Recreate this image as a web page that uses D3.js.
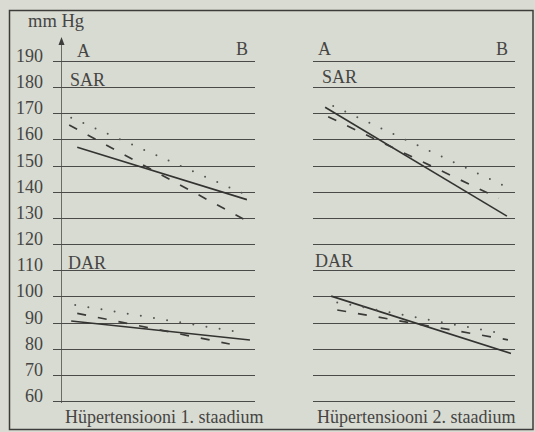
<!DOCTYPE html>
<html>
<head>
<meta charset="utf-8">
<script src="https://cdn.jsdelivr.net/npm/d3@7"></script>
<style>
  html, body { margin: 0; padding: 0; background: #dadcd3; }
  svg { display: block; }
</style>
</head>
<body>
<svg id="chart" width="535" height="432"></svg>
<script>
// Blood pressure (mm Hg) trend between observation points A and B.
// Each series: [position within the A–B period in %, pressure in mm Hg]
const tickValues = [190, 180, 170, 160, 150, 140, 130, 120, 110, 100, 90, 80, 70, 60];
const stageTitles = ["Hüpertensiooni 1. staadium", "Hüpertensiooni 2. staadium"];
const groupLabels = ["SAR", "DAR"];
const groupLevels = [180, 110];

// Stage 1
const sarStage1Solid  = [[12, 157], [96, 137]];
const sarStage1Dashed = [[8, 165.5], [98, 128]];
const sarStage1Dotted = [[9, 168.3], [94, 139.4]];
const darStage1Solid  = [[9, 90.6], [97.5, 83.3]];
const darStage1Dashed = [[12, 93.5], [87.5, 81.8]];
const darStage1Dotted = [[11, 96.7], [91, 86.5]];

// Stage 2
const sarStage2Solid  = [[6, 172.3], [96, 130.7]];
const sarStage2Dashed = [[7.5, 168.7], [92, 137.5]];
const sarStage2Dotted = [[10, 172.8], [96, 141.8]];
const darStage2Solid  = [[9, 100.1], [98, 78.2]];
const darStage2Dashed = [[12, 94.8], [96.5, 83.4]];
const darStage2Dotted = [[12, 97.7], [95.5, 85.5]];

const stageSeries = [
  [sarStage1Solid, sarStage1Dashed, sarStage1Dotted, darStage1Solid, darStage1Dashed, darStage1Dotted],
  [sarStage2Solid, sarStage2Dashed, sarStage2Dotted, darStage2Solid, darStage2Dashed, darStage2Dotted]
];
const seriesStyle = ["solid", "dashed", "dotted", "solid", "dashed", "dotted"];

const FONT = "'Liberation Serif', 'DejaVu Serif', serif";
const INK = "#454543";

const svg = d3.select("#chart").attr("font-family", FONT);

function label(sel, x, yy, txt, size) {
  return sel.append("text")
    .attr("x", x).attr("y", yy)
    .attr("font-family", FONT)
    .attr("font-size", size)
    .attr("fill", INK)
    .text(txt);
}

// page frame
svg.append("rect")
  .attr("x", 9.5).attr("y", 10.5).attr("width", 523.5).attr("height", 419)
  .attr("fill", "#d8dbd2").attr("stroke", "#3c3c3a").attr("stroke-width", 1.5);

const y = d3.scaleLinear().domain([60, 190]).range([401, 61]);
const panelLeft = [53, 313];
const panelWidth = 202;

// value labels on the left
svg.append("g").selectAll("text")
  .data(tickValues).join("text")
  .attr("x", 43).attr("y", d => y(d) + 1)
  .attr("text-anchor", "end")
  .attr("font-family", FONT)
  .attr("font-size", 18)
  .attr("fill", INK)
  .text(d => d);

label(svg, 28, 27, "mm Hg", 18.5);

// vertical axis with arrow
svg.append("line")
  .attr("x1", 61.5).attr("x2", 61.5).attr("y1", 42).attr("y2", y(60) + 2)
  .attr("stroke", "#6a6a66").attr("stroke-width", 1);
svg.append("path")
  .attr("d", "M61.5,37 L58.5,45 L64.5,45 Z")
  .attr("fill", "#3c3c3a");

// per-panel text anchors (offset from the panel's left edge)
const markA = [{dx: 24, dy: -4}, {dx: 5, dy: -6.5}];
const markB = [{dx: 195, dy: -6}, {dx: 195, dy: -6.5}];
const groupDx = [[17, 15], [9, 2]];
const groupDy = [[-1.5, -1.5], [-4, -3]];
const titleDx = [12, 4];

stageTitles.forEach((title, p) => {
  const x0 = panelLeft[p];
  const x = d3.scaleLinear().domain([0, 100]).range([x0, x0 + panelWidth]);
  const g = svg.append("g");

  // horizontal rules
  g.selectAll("line.rule")
    .data(tickValues).join("line")
    .attr("class", "rule")
    .attr("x1", x(0)).attr("x2", x(100))
    .attr("y1", d => Math.round(y(d)) + 0.5).attr("y2", d => Math.round(y(d)) + 0.5)
    .attr("stroke", "#4a4a48").attr("stroke-width", 1.1);

  // A / B markers
  label(g, x0 + markA[p].dx, y(190) + markA[p].dy, "A", 18);
  label(g, x0 + markB[p].dx, y(190) + markB[p].dy, "B", 18).attr("text-anchor", "end");

  // group labels
  groupLabels.forEach((lab, i) => {
    label(g, x0 + groupDx[p][i], y(groupLevels[i]) + groupDy[p][i], lab, 18);
  });

  // stage title
  label(g, x0 + titleDx[p], 423, title, 18);

  const line = d3.line().x(d => x(d[0])).y(d => y(d[1]));
  stageSeries[p].forEach((data, i) => {
    const style = seriesStyle[i];
    const path = g.append("path")
      .datum(data)
      .attr("d", line)
      .attr("fill", "none");
    if (style === "solid") {
      path.attr("stroke", "#333331").attr("stroke-width", 1.6);
    } else if (style === "dashed") {
      path.attr("stroke", "#3a3a38").attr("stroke-width", 1.7)
        .attr("stroke-dasharray", "9,12");
    } else {
      path.attr("stroke", "#555553").attr("stroke-width", 2)
        .attr("stroke-linecap", "round")
        .attr("stroke-dasharray", "0,13.3");
    }
  });
});
</script>
</body>
</html>
